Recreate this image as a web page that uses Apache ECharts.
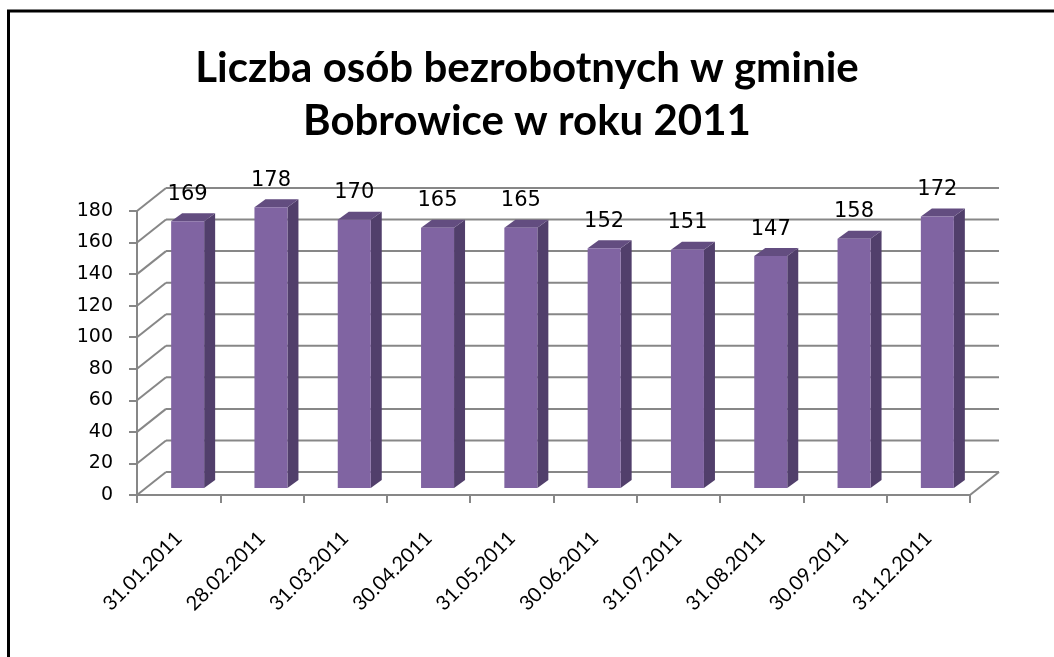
<!DOCTYPE html>
<html>
<head>
<meta charset="utf-8">
<script src="https://cdn.jsdelivr.net/npm/echarts@6/dist/echarts.min.js"></script>
<style>
html,body{margin:0;padding:0;background:#fff;}
#main{width:1054px;height:657px;}
</style>
</head>
<body>
<div id="main"></div>
<script>
const titleText = 'Liczba osób bezrobotnych w gminie\nBobrowice w roku 2011';
const categories = ['31.01.2011','28.02.2011','31.03.2011','30.04.2011','31.05.2011','30.06.2011','31.07.2011','31.08.2011','30.09.2011','31.12.2011'];
const values = [169,178,170,165,165,152,151,147,158,172];
const yMin = 0, yMax = 180, yStep = 20;

const gridColor = '#878787';
const depth = [29, -23];      // back wall offset
const barShift = [9, -7];     // bar front face offset
const barW = 33;
const side = [11, -8];

const gridLevels = [];
for (let v = yMin; v <= yMax; v += yStep) gridLevels.push([0, v]);

const chart = echarts.init(document.getElementById('main'), null, {renderer:'canvas'});
chart.setOption({
  backgroundColor:'#fff',
  animation:false,
  title:{
    text:titleText,
    left:'center', top:37,
    textStyle:{fontFamily:'Lato', fontWeight:'bold', fontSize:42, lineHeight:53, color:'#000'}
  },
  grid:{left:137, right:84, top:211, bottom:162},
  xAxis:{
    type:'category', data:categories, boundaryGap:true,
    axisLine:{lineStyle:{color:gridColor, width:2}},
    axisTick:{show:true, length:8, lineStyle:{color:gridColor, width:2}},
    axisLabel:{rotate:45, margin:40, fontFamily:'Lato', fontSize:20, color:'#000', interval:0}
  },
  yAxis:{
    type:'value', min:yMin, max:yMax, interval:yStep,
    axisLine:{show:true, lineStyle:{color:gridColor, width:2}},
    axisTick:{show:true, length:8, lineStyle:{color:gridColor, width:2}},
    axisLabel:{margin:24, fontFamily:'DejaVu Sans', fontSize:19, color:'#000'},
    splitLine:{show:false}
  },
  graphic:[
    {type:'line', shape:{x1:7, y1:11, x2:1054, y2:11}, style:{stroke:'#000', lineWidth:3}, z:100},
    {type:'line', shape:{x1:8.5, y1:10, x2:8.5, y2:657}, style:{stroke:'#000', lineWidth:3}, z:100}
  ],
  series:[
    {
      type:'custom', z:1, clip:false, silent:true,
      data:gridLevels,
      renderItem:function(params, api){
        const cs = params.coordSys;
        const y = api.coord([0, api.value(1)])[1];
        const x0 = cs.x, x1 = cs.x + cs.width;
        const st = {stroke:gridColor, lineWidth:2, fill:null};
        const children = [
          {type:'line', shape:{x1:x0, y1:y, x2:x0+depth[0], y2:y+depth[1]}, style:st},
          {type:'line', shape:{x1:x0+depth[0], y1:y+depth[1], x2:x1+depth[0], y2:y+depth[1]}, style:st}
        ];
        if (api.value(1) === yMin) {
          children.push({type:'line', shape:{x1:x1, y1:y, x2:x1+depth[0], y2:y+depth[1]}, style:st});
        }
        return {type:'group', children:children};
      }
    },
    {
      type:'custom', z:3, clip:false,
      data:values.map((v,i)=>[i,v]),
      renderItem:function(params, api){
        const idx = api.value(0), val = api.value(1);
        const p = api.coord([idx, val]);
        const b = api.coord([idx, 0]);
        const cx = p[0] + barShift[0];
        const top = p[1] + barShift[1];
        const bot = b[1] + barShift[1];
        const l = cx - barW/2, r = cx + barW/2;
        return {type:'group', children:[
          {type:'polygon', shape:{points:[[r,top],[r+side[0],top+side[1]],[r+side[0],bot+side[1]],[r,bot]]}, style:{fill:'#513f6b'}},
          {type:'polygon', shape:{points:[[l,top],[l+side[0],top+side[1]],[r+side[0],top+side[1]],[r,top]]}, style:{fill:'#634d80'}},
          {type:'rect', shape:{x:l, y:top, width:barW, height:bot-top}, style:{fill:'#8064a2'}},
          {type:'text', style:{text:String(val), x:cx, y:top+side[1]-19, align:'center', verticalAlign:'middle', font:'21px "DejaVu Sans"', fill:'#000'}}
        ]};
      }
    }
  ]
});
</script>
</body>
</html>
